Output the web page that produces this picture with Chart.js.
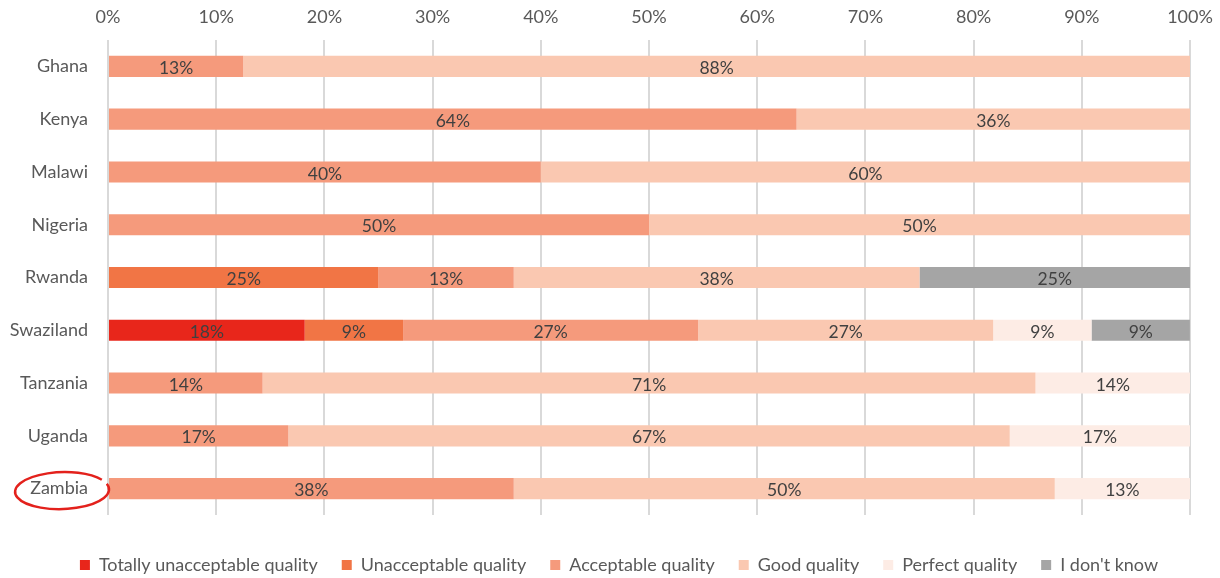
<!DOCTYPE html>
<html>
<head>
<meta charset="utf-8">
<script src="https://cdn.jsdelivr.net/npm/chart.js@4"></script>
<style>
  html, body { margin: 0; padding: 0; background: #fff; }
  #wrap { width: 1220px; height: 578px; }
</style>
</head>
<body>
<div id="wrap"><canvas id="qualityChart"></canvas></div>
<script>
// Countries and share of answers per quality rating (percent)
const countries = ["Ghana", "Kenya", "Malawi", "Nigeria", "Rwanda", "Swaziland", "Tanzania", "Uganda", "Zambia"];
const totallyUnacceptable = [null, null, null, null, null, 18.18, null, null, null];
const unacceptable = [null, null, null, null, 25, 9.09, null, null, null];
const acceptable = [12.5, 63.64, 40, 50, 12.5, 27.27, 14.29, 16.67, 37.5];
const good = [87.5, 36.36, 60, 50, 37.5, 27.27, 71.43, 66.67, 50];
const perfect = [null, null, null, null, null, 9.09, 14.29, 16.67, 12.5];
const dontKnow = [null, null, null, null, 25, 9.09, null, null, null];
const xTicks = [0, 10, 20, 30, 40, 50, 60, 70, 80, 90, 100];
const highlighted = "Zambia";

const FONT = "Lato, 'Open Sans', sans-serif";
const TEXT_SIZE = 18;

// Percent labels in the middle of every segment
const segmentLabels = {
  id: "segmentLabels",
  afterDatasetsDraw(chart) {
    const ctx = chart.ctx;
    ctx.save();
    ctx.font = "17.5px " + FONT;
    ctx.fillStyle = "#404040";
    ctx.textAlign = "center";
    ctx.textBaseline = "middle";
    chart.data.datasets.forEach((ds, i) => {
      const meta = chart.getDatasetMeta(i);
      if (meta.hidden) return;
      meta.data.forEach((bar, j) => {
        const v = ds.data[j];
        if (v == null) return;
        const cx = (bar.x + bar.base) / 2;
        ctx.fillText(Math.round(v) + "%", cx, bar.y + 2);
      });
    });
    ctx.restore();
  }
};

// Red hand-drawn style ring round one country name
const ringLabel = {
  id: "ringLabel",
  afterDraw(chart) {
    const y = chart.scales.y;
    const idx = countries.indexOf(highlighted);
    if (idx < 0) return;
    const ctx = chart.ctx;
    ctx.save();
    ctx.font = TEXT_SIZE + "px " + FONT;
    const w = ctx.measureText(highlighted).width;
    const right = y.right - 20;
    const cx = right - w / 2 + 3;
    const cy = y.getPixelForValue(idx) + 2;
    ctx.strokeStyle = "#E3211C";
    ctx.lineWidth = 2.5;
    ctx.beginPath();
    ctx.ellipse(cx, cy, 47, 18.5, -0.03, -0.3, Math.PI * 2 - 0.55);
    ctx.stroke();
    ctx.restore();
  }
};

// Move the legend row down near the bottom edge and a little to the right
const legendOffset = {
  id: "legendOffset",
  afterLayout(chart) {
    const lg = chart.legend;
    if (!lg) return;
    lg.top += 17;
    lg.bottom += 17;
    lg.left += 24;
    lg.right += 24;
  }
};

function makeSet(label, data, color) {
  return {
    label: label,
    data: data,
    backgroundColor: color,
    borderWidth: 0,
    barPercentage: 0.4,
    categoryPercentage: 1
  };
}

new Chart(document.getElementById("qualityChart"), {
  type: "bar",
  data: {
    labels: countries,
    datasets: [
      makeSet("Totally unacceptable quality", totallyUnacceptable, "#E8261B"),
      makeSet("Unacceptable quality", unacceptable, "#F17545"),
      makeSet("Acceptable quality", acceptable, "#F59A7C"),
      makeSet("Good quality", good, "#FAC8B1"),
      makeSet("Perfect quality", perfect, "#FDECE5"),
      makeSet("I don't know", dontKnow, "#A5A5A5")
    ]
  },
  options: {
    indexAxis: "y",
    responsive: true,
    maintainAspectRatio: false,
    animation: false,
    layout: { padding: { top: 0, right: 30, bottom: 11, left: 0 } },
    scales: {
      x: {
        position: "top",
        stacked: true,
        min: 0,
        max: 100,
        afterBuildTicks(scale) {
          scale.ticks = xTicks.map(v => ({ value: v }));
        },
        afterFit(scale) {
          scale.height = 40;
          scale.paddingLeft = 0;
          scale.paddingRight = 0;
        },
        grid: { color: "#D9D9D9", lineWidth: 2, drawTicks: false },
        border: { display: false },
        ticks: {
          padding: 12,
          color: "#595959",
          font: { family: FONT, size: TEXT_SIZE },
          callback: v => v + "%"
        }
      },
      y: {
        stacked: true,
        afterFit(scale) { scale.width = 108; },
        grid: { display: false, drawTicks: false },
        border: { display: false },
        ticks: {
          padding: 20,
          color: "#595959",
          font: { family: FONT, size: TEXT_SIZE }
        }
      }
    },
    plugins: {
      legend: {
        position: "bottom",
        labels: {
          boxWidth: 10,
          boxHeight: 10,
          padding: 24,
          color: "#595959",
          font: { family: FONT, size: TEXT_SIZE }
        }
      },
      tooltip: { enabled: false }
    }
  },
  plugins: [segmentLabels, ringLabel, legendOffset]
});
</script>
</body>
</html>
